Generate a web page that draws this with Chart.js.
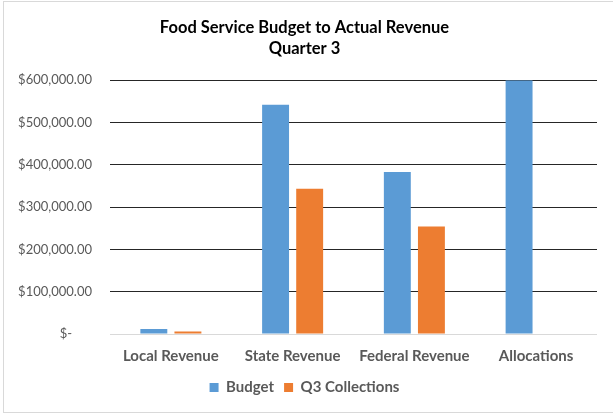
<!DOCTYPE html>
<html>
<head>
<meta charset="utf-8">
<script src="https://cdn.jsdelivr.net/npm/chart.js@4/dist/chart.umd.min.js"></script>
<style>
  html, body { margin: 0; padding: 0; background: #fff; }
  #wrap { width: 613px; height: 416px; position: relative; }
</style>
</head>
<body>
<div id="wrap"><canvas id="chart"></canvas></div>
<script>
const categories = ['Local Revenue', 'State Revenue', 'Federal Revenue', 'Allocations']
const budget = [11800, 542000, 383000, 600000]
const q3Collections = [6200, 343500, 254000, 0]
const yTicks = [0, 100000, 200000, 300000, 400000, 500000, 600000]

const font = "Lato, 'Open Sans', sans-serif"

// white background + light gray frame like the spreadsheet chart box
const frame = {
  id: 'frame',
  beforeDraw(chart) {
    const c = chart.ctx
    c.save()
    c.fillStyle = '#fff'
    c.fillRect(0, 0, chart.width, chart.height)
    c.strokeStyle = '#d9d9d9'
    c.lineWidth = 1
    c.strokeRect(3.5, 1.5, chart.width + 10, 411)
    c.restore()
  },
}

let fmt = function (v) {
  if (v === 0) return '$-      '
  return '$' + v.toLocaleString('en-US', { minimumFractionDigits: 2, maximumFractionDigits: 2 })
}

new Chart(document.getElementById('chart'), {
  type: 'bar',
  data: {
    labels: categories,
    datasets: [
      {
        label: 'Budget',
        data: budget,
        backgroundColor: '#5b9bd5',
        categoryPercentage: 0.56,
        barPercentage: 0.79,
      },
      {
        label: 'Q3 Collections',
        data: q3Collections,
        backgroundColor: '#ed7d31',
        categoryPercentage: 0.56,
        barPercentage: 0.79,
      },
    ],
  },
  options: {
    responsive: true,
    maintainAspectRatio: false,
    animation: false,
    layout: { padding: { left: 12, right: 16, top: 6, bottom: 11 } },
    plugins: {
      title: {
        display: true,
        text: ['Food Service Budget to Actual Revenue', 'Quarter 3'],
        color: '#000',
        font: { family: font, size: 16.5, weight: 'bold', lineHeight: 1.28 },
        padding: { top: 11, bottom: 21 },
      },
      legend: {
        position: 'bottom',
        labels: {
          color: '#595959',
          font: { family: font, size: 15, weight: 'bold' },
          boxWidth: 9,
          boxHeight: 9,
          padding: 10,
        },
      },
      tooltip: { enabled: false },
    },
    scales: {
      x: {
        grid: { display: false },
        border: { display: false },
        ticks: {
          color: '#595959',
          font: { family: font, size: 15, weight: 'bold' },
          padding: 5,
        },
      },
      y: {
        min: 0,
        max: 600000,
        afterBuildTicks(axis) {
          axis.ticks = yTicks.map((v) => ({ value: v }))
        },
        afterFit(axis) {
          axis.width = 98
        },
        border: { display: false },
        grid: {
          color: (ctx) => (ctx.tick && ctx.tick.value === 0 ? '#d9d9d9' : '#262626'),
          lineWidth: 1,
          drawTicks: false,
        },
        ticks: {
          color: '#595959',
          font: { family: font, size: 13 },
          padding: 18,
          callback: (v) => fmt(v),
        },
      },
    },
  },
  plugins: [frame],
})
</script>
</body>
</html>
